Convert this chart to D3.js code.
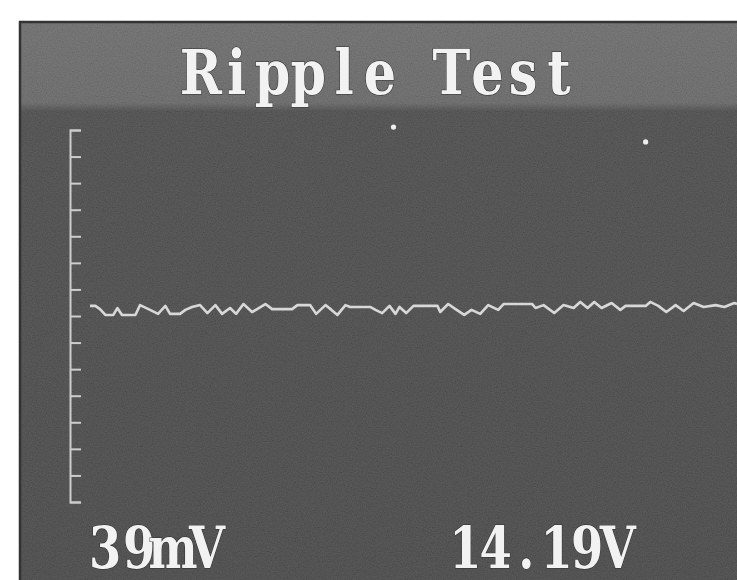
<!DOCTYPE html>
<html lang="en">
<head>
<meta charset="UTF-8">
<title>Ripple Test</title>
<script src="https://cdn.jsdelivr.net/npm/d3@7"></script>
<style>
  body { margin: 0; background: #fff; }
  .axis path, .axis line { fill: none; stroke: #cdcdcd; stroke-width: 2; }
  .label { font-family: "DejaVu Serif", serif; font-weight: bold; fill: #f2f2f2;
           stroke: #2e2e2e; stroke-width: 1.2; paint-order: stroke; text-anchor: middle; }
</style>
</head>
<body>
<script>
// screen texts
const title = "Ripple Test";
const readings = ["39mV", "14.19V"];

// vertical graticule, one tick per division
const yTicks = [-70, -60, -50, -40, -30, -20, -10, 0, 10, 20, 30, 40, 50, 60, 70];

// trace (time in % of screen, level in div*10)
const traceT = [3.0, 3.8, 4.5, 5.3, 6.5, 7.1, 7.8, 9.8, 10.5, 12.0, 13.2, 14.3, 15.0, 16.5, 17.3,
  18.3, 19.5, 20.6, 21.8, 22.8, 24.0, 24.9, 26.0, 27.3, 29.3, 30.3, 33.3, 34.1, 36.0, 36.9,
  38.3, 39.2, 40.1, 41.3, 42.0, 45.0, 45.8, 46.8, 47.9, 48.8, 49.4, 50.4, 51.5, 55.1, 55.5,
  56.7, 57.8, 59.1, 60.2, 61.5, 62.7, 64.2, 65.0, 69.3, 69.8, 71.0, 72.6, 74.0, 75.5, 76.5,
  77.6, 78.6, 79.7, 81.2, 82.5, 83.3, 86.3, 87.0, 88.2, 89.4, 90.8, 92.0, 93.5, 95.0, 96.8,
  98.1, 99.6, 100];
const traceV = [3.8, 3.8, 2.6, 0.4, 0.4, 3.0, 0.4, 0.4, 4.1, 2.3, 0.8, 3.8, 0.8, 0.8, 2.3,
  3.4, 4.1, 1.1, 4.1, 0.8, 3.0, 0.8, 4.5, 1.5, 4.5, 2.6, 2.6, 4.1, 4.1, 0.8,
  4.1, 2.3, 0.4, 4.1, 3.4, 3.4, 2.3, 1.1, 3.8, 0.8, 3.4, 1.1, 3.8, 3.8, 1.5,
  4.5, 2.6, 0.4, 2.3, 0.8, 4.1, 2.3, 4.5, 4.5, 3.0, 4.1, 1.1, 4.1, 3.0, 5.3,
  3.0, 5.3, 3.0, 4.9, 2.3, 3.8, 3.8, 5.3, 3.8, 1.5, 4.1, 1.9, 4.9, 3.4, 4.1,
  3.4, 4.9, 4.5];

// stray bright specks on the screen
const speckT = [48.5, 86.3];
const speckV = [71.1, 65.5];

const w = 737, h = 580;
const svg = d3.select("body").append("svg").attr("width", w).attr("height", h);
const defs = svg.append("defs");

const grad = defs.append("linearGradient").attr("id", "scr").attr("x1", 0).attr("y1", 0).attr("x2", 0).attr("y2", 1);
grad.append("stop").attr("offset", "0%").attr("stop-color", "#686868");
grad.append("stop").attr("offset", "14.5%").attr("stop-color", "#636363");
grad.append("stop").attr("offset", "16%").attr("stop-color", "#464646");
grad.append("stop").attr("offset", "100%").attr("stop-color", "#424242");

// film grain, drawn over the screen
const grain = defs.append("filter").attr("id", "grain").attr("x", 0).attr("y", 0).attr("width", 1).attr("height", 1);
grain.append("feTurbulence").attr("type", "fractalNoise").attr("baseFrequency", 0.8).attr("numOctaves", 2).attr("seed", 7);
grain.append("feColorMatrix").attr("type", "matrix")
  .attr("values", "1 0 0 0 0  1 0 0 0 0  1 0 0 0 0  0 0 0 0 0.14");

const soft = defs.append("filter").attr("id", "soft");
soft.append("feGaussianBlur").attr("stdDeviation", 0.7);

// screen
svg.append("rect").attr("x", 20).attr("y", 22).attr("width", w - 20).attr("height", h - 22)
  .attr("fill", "url(#scr)");
svg.append("rect").attr("x", 20).attr("y", 22).attr("width", w - 20).attr("height", h - 22)
  .attr("fill", "#000").attr("filter", "url(#grain)");
svg.append("path").attr("d", `M20,${h}V22H${w}`).attr("fill", "none").attr("stroke", "#333").attr("stroke-width", 2.5);

const x = d3.scaleLinear().domain([0, 100]).range([70, 737]);
const y = d3.scaleLinear().domain([-70, 70]).range([502, 130]);

svg.append("g")
  .attr("class", "axis")
  .attr("transform", "translate(70,0)")
  .attr("filter", "url(#soft)")
  .call(d3.axisRight(y).tickValues(yTicks).tickSize(11).tickSizeOuter(11).tickFormat(""));

const pts = traceT.map((t, i) => [t, traceV[i]]);
svg.append("path")
  .datum(pts)
  .attr("fill", "none")
  .attr("stroke", "#d8d8d8")
  .attr("stroke-width", 2.6)
  .attr("stroke-linejoin", "round")
  .attr("filter", "url(#soft)")
  .attr("d", d3.line().x(d => x(d[0])).y(d => y(d[1])));

svg.selectAll("circle.speck")
  .data(speckT.map((t, i) => [t, speckV[i]]))
  .enter()
  .append("circle")
  .attr("class", "speck")
  .attr("cx", d => x(d[0]))
  .attr("cy", d => y(d[1]))
  .attr("r", 2.6)
  .attr("fill", "#eee")
  .attr("filter", "url(#soft)");

// monospaced look: every character sits in its own cell
function cells(str, left, pitch, sx) {
  return str.split("").map((c, i) => ((left + pitch * (i + 0.5)) / sx).toFixed(1)).join(" ");
}

const titleSx = 0.82;
svg.append("text")
  .attr("class", "label")
  .attr("transform", `scale(${titleSx},1)`)
  .attr("font-size", 62)
  .attr("x", cells(title, 183, 35.8, titleSx))
  .attr("y", 94)
  .text(title);

const readLeft = [88, 450], readPitch = [34, 30.5];
const readSx = 0.8;
svg.selectAll("text.read")
  .data(readings)
  .enter()
  .append("text")
  .attr("class", "label read")
  .attr("transform", `scale(${readSx},1)`)
  .attr("font-size", 58)
  .attr("x", (d, i) => cells(d, readLeft[i], readPitch[i], readSx))
  .attr("y", 568)
  .text(d => d);
</script>
</body>
</html>
